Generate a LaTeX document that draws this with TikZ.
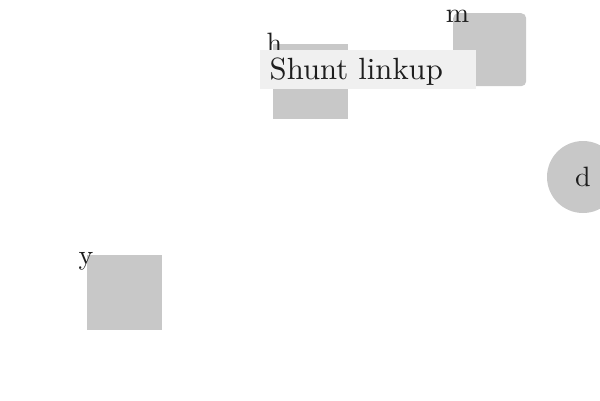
\documentclass[tikz,border=0pt]{standalone}
\definecolor{shapegray}{HTML}{C8C8C8}
\definecolor{boxgray}{HTML}{F0F0F0}
\definecolor{textdark}{HTML}{1E1E1E}
\newcommand{\lbltext}[1]{\scalebox{2.8}{#1}}
\begin{document}
\begin{tikzpicture}[x=1pt,y=-1pt,
  sq/.style={fill=shapegray, draw=none, inner sep=0pt, minimum width=75pt, minimum height=75pt, anchor=north west},
  lbl/.style={text=textdark, inner sep=0pt, anchor=base},
  tagbox/.style={fill=boxgray, draw=none, anchor=north west, minimum width=216pt, minimum height=39pt, inner sep=0pt}]
\useasboundingbox (0,0) rectangle (600,400);
\node[sq] (h) at (273,44) {};
\node[sq, minimum width=73pt, minimum height=73pt, rounded corners=5pt] (m) at (453,13) {};
\node[sq] (y) at (87,255) {};
\node[circle, fill=shapegray, draw=none, minimum size=72pt, inner sep=0pt] (d) at (583,177) {};
\node[lbl, anchor=center, text=textdark] (dl) at (d.center) {\lbltext{d}};
\node[lbl] (hl) at (274.5,52.5) {\lbltext{h}};
\node[lbl] (ml) at (457.5,22) {\lbltext{m}};
\node[lbl] (yl) at (86,264) {\lbltext{y}};
\node[tagbox] (shunt) at (260,50) {};
\node[text=textdark, inner sep=0pt, anchor=base west] (shunttext) at (269.5,79) {\scalebox{3.07}{Shunt linkup}};
\end{tikzpicture}
\end{document}
